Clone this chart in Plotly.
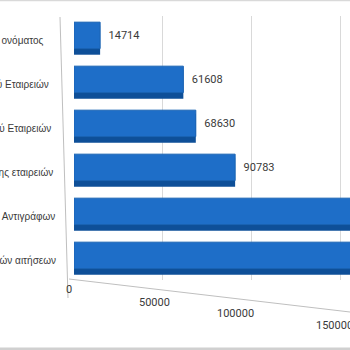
import plotly.graph_objects as go

# ---- data ----
categories = [
    "Δέσμευση ονόματος",
    "Σύσταση Ατομικού Εταιρειών",
    "Τροποποίηση Καταστατικού Εταιρειών",
    "Ανακοινώσεις λύσης εταιρειών",
    "Έκδοση Αντιγράφων",
    "Σύνολο ηλεκτρονικών αιτήσεων",
]
values = [14714, 61608, 68630, 90783, 182000, 188000]
x_ticks = [0, 50000, 100000, 150000]
x_tick_labels = ["0", "50000", "100000", "150000"]

# ---- style ----
L, T, B = 74, 16, 70
W = H = 350
pw, ph = W - L, H - T - B
label_right_px = [45, 50, 52, 54, 56, 57]
tick_label_px_y = [289, 302, 313, 325]
tick_label_xshift = [-5, -8, -16, -6]
text_col = "#3a3a3a"
font = "Roboto"
cat_font = "Liberation Sans"

fig = go.Figure()
# depth / shadow layer
fig.add_trace(go.Bar(
    y=categories, x=values, orientation="h",
    width=0.66, offset=-0.28,
    marker=dict(color="#0e4f98", line=dict(width=0)),
    hoverinfo="skip", showlegend=False,
))
# front face
fig.add_trace(go.Bar(
    y=categories, x=values, orientation="h",
    width=0.6, offset=-0.36,
    marker=dict(color="#1e6ec8", line=dict(color="#1a63b3", width=1)),
    text=["\u00a0\u00a0" + str(v) for v in values], textposition="outside",
    textfont=dict(family=font, size=11, color=text_col),
    cliponaxis=True, showlegend=False,
))

annotations = []
for cat, px in zip(categories, label_right_px):
    annotations.append(dict(
        x=(px - L) / pw, xref="paper", y=cat, yref="y", yshift=-2,
        text=cat, showarrow=False, xanchor="right", borderpad=0,
        font=dict(family=cat_font, size=10, color=text_col),
    ))
for tv, tl, py, xs in zip(x_ticks, x_tick_labels, tick_label_px_y, tick_label_xshift):
    annotations.append(dict(
        x=tv, xref="x", y=(H - B - py) / ph, yref="paper", xshift=xs,
        text=tl, showarrow=False, xanchor="center", yanchor="middle",
        font=dict(family=font, size=11, color=text_col),
    ))

shapes = [
    dict(type="line", xref="paper", yref="paper",
         x0=-L / pw, x1=1, y0=(H - B - 0.5) / ph, y1=(H - B - 0.5) / ph,
         line=dict(color="#d9d9d9", width=1.5)),
    dict(type="line", xref="paper", yref="paper",
         x0=-L / pw, x1=1, y0=(H - B - 349) / ph, y1=(H - B - 349) / ph,
         line=dict(color="#d0d0d0", width=3)),
    dict(type="line", xref="paper", yref="paper",
         x0=(69 - L) / pw, y0=(H - B - 279) / ph, x1=1, y1=(H - B - 312) / ph,
         line=dict(color="#bfbfbf", width=1)),
    dict(type="line", xref="paper", yref="paper",
         x0=(60 - L) / pw, y0=(H - B - 17) / ph, x1=(68 - L) / pw, y1=(H - B - 298) / ph,
         line=dict(color="#bfbfbf", width=1)),
]

fig.update_layout(
    width=W, height=H,
    margin=dict(l=L, r=0, t=T, b=B),
    paper_bgcolor="white", plot_bgcolor="white",
    barmode="overlay",
    xaxis=dict(range=[0, 155500], tickvals=x_ticks, showticklabels=False,
               showgrid=True, gridcolor="#d9d9d9", gridwidth=1,
               zeroline=False, showline=False, fixedrange=True),
    yaxis=dict(autorange="reversed", showticklabels=False, showgrid=False,
               zeroline=False, showline=False, fixedrange=True),
    annotations=annotations, shapes=shapes,
    font=dict(family=font, size=11, color=text_col),
)

fig.write_html("out.html")
